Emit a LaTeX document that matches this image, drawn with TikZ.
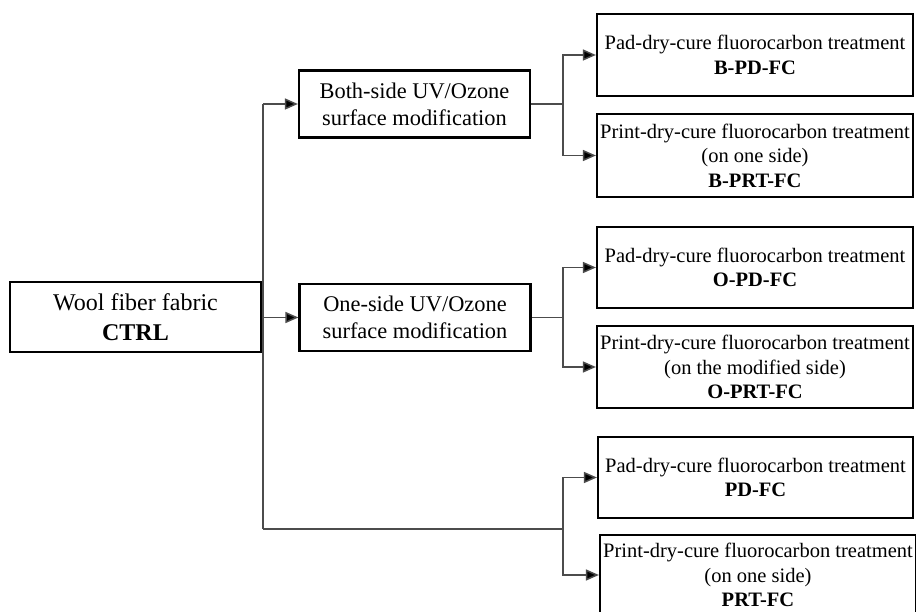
\documentclass[tikz,border=0pt]{standalone}
\usepackage{fontspec}
\setmainfont{Liberation Serif}
\usetikzlibrary{arrows.meta,calc}
\begin{document}
\begin{tikzpicture}[x=1pt,y=1pt,
  box/.style={draw=black,line width=2.2pt,rectangle,inner sep=0pt,align=center},
  bigbox/.style={box,font=\fontsize{24}{30}\selectfont},
  midbox/.style={box,font=\fontsize{22.4}{26.7}\selectfont,minimum width=231pt,minimum height=67pt},
  rbox/.style={box,font=\fontsize{20.5}{24.5}\selectfont,minimum width=316pt},
  conn/.style={draw=black!70,line width=1.5pt},
  arr/.style={conn,-{Triangle[length=13pt,width=11pt,fill=black]}}]
\clip (0,0) rectangle (916,611);
\fill[white] (0,0) rectangle (916,611);
% boxes
\node[bigbox,minimum width=251pt,minimum height=70pt] (ctrl) at (135.5,294) {Wool fiber fabric\\\textbf{CTRL}};
\node[midbox] (both) at (414.5,507) {Both-side UV/Ozone\\surface modification};
\node[midbox] (one) at (415,293.5) {One-side UV/Ozone\\surface modification};
\node[rbox,minimum height=82pt] (bpd) at (755,556) {Pad-dry-cure fluorocarbon treatment\\\textbf{B-PD-FC}};
\node[rbox,minimum height=83pt] (bprt) at (755,455.5) {Print-dry-cure fluorocarbon treatment\\(on one side)\\\textbf{B-PRT-FC}};
\node[rbox,minimum height=81pt] (opd) at (755,343.5) {Pad-dry-cure fluorocarbon treatment\\\textbf{O-PD-FC}};
\node[rbox,minimum height=82pt] (oprt) at (755,244) {Print-dry-cure fluorocarbon treatment\\(on the modified side)\\\textbf{O-PRT-FC}};
\node[rbox,minimum width=315pt,minimum height=81pt] (pd) at (755.5,133.5) {Pad-dry-cure fluorocarbon treatment\\\textbf{PD-FC}};
\node[rbox,minimum height=80pt] (prt) at (758,36) {Print-dry-cure fluorocarbon treatment\\(on one side)\\\textbf{PRT-FC}};
% trunk
\coordinate (tTop) at (263,507);
\coordinate (tBot) at (263,82);
\coordinate (j1) at (563,507);
\coordinate (j2) at (563,293.5);
\coordinate (j3) at (563,82);
\draw[conn] (tBot) -- (tTop);
\draw[arr] (tTop) -- (both.west);
\draw[arr] (tBot |- one.west) -- (one.west);
\draw[conn] (tBot) -- (j3);
% branches
\draw[conn] (both.east) -- (j1);
\draw[arr] (j1) |- (bpd.west);
\draw[arr] (j1) |- (bprt.west);
\draw[conn] (one.east) -- (j2);
\draw[arr] (j2) |- (opd.west);
\draw[arr] (j2) |- (oprt.west);
\draw[arr] (j3) |- (pd.west);
\draw[arr] (j3) |- (prt.west);
\end{tikzpicture}
\end{document}
